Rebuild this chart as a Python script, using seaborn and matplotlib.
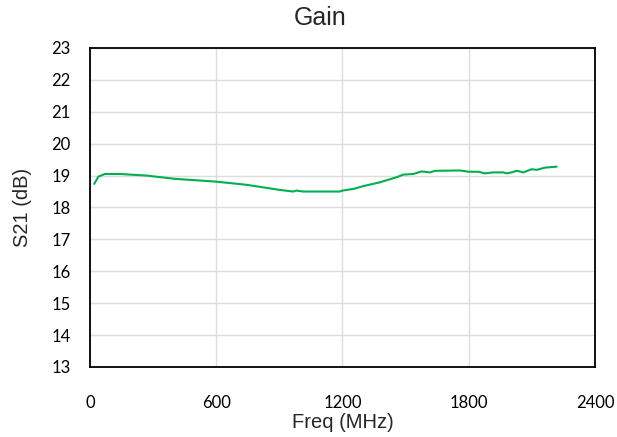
"""Gain (S21) vs frequency, redrawn with seaborn."""

import matplotlib
matplotlib.use("Agg")
import matplotlib.pyplot as plt
import pandas as pd
import seaborn as sns

# ── data ──────────────────────────────────────────────────────────────────────
freq_mhz = [20, 40, 71, 143, 269, 400, 600, 745, 903, 966, 980, 1013, 1100,
            1188, 1200, 1251, 1299, 1378, 1458, 1489, 1536, 1576, 1616, 1640,
            1759, 1800, 1846, 1877, 1917, 1964, 1980, 2004, 2028, 2060, 2099,
            2123, 2163, 2218]
gain_db = [18.74, 18.97, 19.05, 19.05, 19.00, 18.90, 18.81, 18.71, 18.55,
           18.50, 18.53, 18.50, 18.50, 18.50, 18.53, 18.58, 18.67, 18.79,
           18.95, 19.03, 19.05, 19.13, 19.10, 19.15, 19.16, 19.12, 19.12,
           19.07, 19.10, 19.10, 19.07, 19.10, 19.15, 19.10, 19.20, 19.18,
           19.25, 19.28]
x_ticks = [0, 600, 1200, 1800, 2400]
y_ticks = list(range(13, 24))

df = pd.DataFrame({"freq": freq_mhz, "gain": gain_db})

sns.set_style("white")
plt.rcParams["font.family"] = ["Lato", "DejaVu Sans"]

fig = plt.figure(figsize=(6.17, 4.37), dpi=100)
ax = fig.add_axes([0.1459, 0.1602, 0.8184, 0.7300])

sns.lineplot(data=df, x="freq", y="gain", ax=ax, color="#00B050", linewidth=1.5)

ax.set_xlim(0, 2400)
ax.set_ylim(13, 23)
ax.set_xticks(x_ticks)
ax.set_yticks(y_ticks)
ax.tick_params(axis="both", length=0, labelsize=12, colors="black")
ax.tick_params(axis="x", pad=20)
ax.tick_params(axis="y", pad=14)
ax.grid(True, color="#DDDDDD", linewidth=1)
ax.set_axisbelow(True)
for sp in ax.spines.values():
    sp.set_color("black")
    sp.set_linewidth(1.3)

ax.set_xlabel("Freq (MHz)", fontsize=14.5, family="Liberation Sans")
ax.set_ylabel("S21 (dB)", fontsize=14.5, family="Liberation Sans")
ax.xaxis.set_label_coords(0.5, -0.145)
ax.yaxis.set_label_coords(-0.115, 0.5)
fig.text(0.519, 0.958, "Gain", ha="center", va="center", fontsize=18,
         family="Liberation Sans")

fig.savefig("out.png", dpi=100)
